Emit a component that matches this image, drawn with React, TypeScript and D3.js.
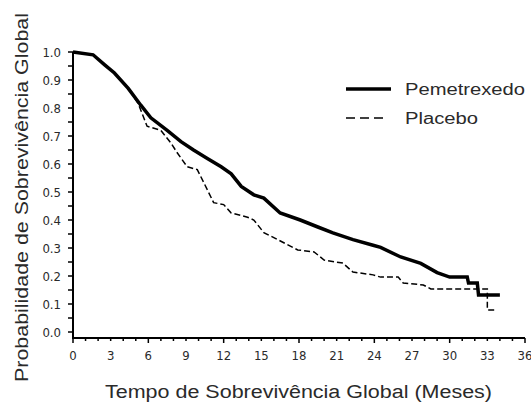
import React, { useEffect, useRef } from 'react';
import * as d3 from 'd3';

// Kaplan-Meier curves: [month, survival]
const pemetrexedo: [number, number][] = [
  [0, 1.0], [1.6, 0.99], [2.5, 0.955], [3.3, 0.925], [4.4, 0.87], [5.4, 0.81],
  [6.2, 0.765], [7.5, 0.72], [8.6, 0.68], [9.6, 0.65], [10.7, 0.62], [11.8, 0.59],
  [12.6, 0.565], [13.4, 0.52], [14.4, 0.49], [15.2, 0.478], [16.5, 0.425],
  [18.1, 0.4], [19.5, 0.375], [20.7, 0.354], [22.3, 0.33], [23.9, 0.31],
  [24.5, 0.302], [26.1, 0.268], [27.7, 0.245], [29.0, 0.212], [30.0, 0.196],
  [31.4, 0.196], [31.5, 0.175], [32.2, 0.175], [32.3, 0.132], [34.0, 0.132]
];

const placebo: [number, number][] = [
  [0, 1.0], [1.6, 0.99], [2.5, 0.955], [3.3, 0.925], [4.4, 0.87], [5.2, 0.815],
  [5.9, 0.735], [7.0, 0.72], [7.8, 0.675], [8.3, 0.64], [9.1, 0.59], [9.9, 0.58],
  [10.4, 0.535], [11.2, 0.462], [12.0, 0.455], [12.6, 0.425], [13.9, 0.41],
  [14.4, 0.4], [15.2, 0.355], [16.3, 0.33], [17.9, 0.293], [19.2, 0.286],
  [20.0, 0.257], [21.5, 0.246], [22.3, 0.214], [23.9, 0.204], [24.5, 0.196],
  [25.9, 0.196], [26.3, 0.175], [27.9, 0.168], [28.5, 0.154], [33.0, 0.154],
  [33.0, 0.079], [33.6, 0.079]
];

const xLabels = [0, 3, 6, 9, 12, 15, 18, 21, 24, 27, 30, 33, 36];
const yLabels = [0, 0.1, 0.2, 0.3, 0.4, 0.5, 0.6, 0.7, 0.8, 0.9, 1.0];

const seriesNames = ['Pemetrexedo', 'Placebo'];

const W = 531;
const H = 405;
const textColor = '#2a2a2a';
const tickFont = "'Liberation Sans Narrow', 'Arial Narrow', 'DejaVu Sans Condensed', sans-serif";
const titleFont = "'Liberation Sans', Arial, sans-serif";

const App = () => {
  const svgRef = useRef<SVGSVGElement>(null);

  useEffect(() => {
    document.body.style.margin = '0';
    if (!svgRef.current) return;
    const svg = d3.select(svgRef.current);
    svg.selectAll('*').remove();

    const x = d3.scaleLinear().domain([0, 36]).range([73, 525]);
    const y = d3.scaleLinear().domain([0, 1]).range([332, 52]);
    const axisY = 338;

    // y ticks every 0.05, labels every 0.1
    const yTicks = d3.range(0, 21).map(i => i * 0.05);
    svg.append('g')
      .selectAll('line')
      .data(yTicks)
      .join('line')
      .attr('x1', 68).attr('x2', 73)
      .attr('y1', d => y(d)).attr('y2', d => y(d))
      .attr('stroke', '#000').attr('stroke-width', 1.5);

    svg.append('g')
      .selectAll('text')
      .data(yLabels)
      .join('text')
      .attr('x', 61)
      .attr('y', d => y(d))
      .attr('dy', '0.36em')
      .attr('text-anchor', 'end')
      .attr('fill', textColor)
      .style('font-family', tickFont)
      .style('font-size', '13px')
      .text(d => d.toFixed(1));

    // x ticks every month, longer every 6
    const xTicks = d3.range(0, 37);
    svg.append('g')
      .selectAll('line')
      .data(xTicks)
      .join('line')
      .attr('x1', d => x(d)).attr('x2', d => x(d))
      .attr('y1', axisY).attr('y2', d => axisY + (d % 6 === 0 ? 5 : 3))
      .attr('stroke', '#000').attr('stroke-width', 1.5);

    svg.append('g')
      .selectAll('text')
      .data(xLabels)
      .join('text')
      .attr('x', d => x(d))
      .attr('y', 360)
      .attr('text-anchor', 'middle')
      .attr('fill', textColor)
      .style('font-family', tickFont)
      .style('font-size', '13px')
      .text(d => d);

    // axis lines
    svg.append('line')
      .attr('x1', 73).attr('x2', 73).attr('y1', 52).attr('y2', axisY + 1)
      .attr('stroke', '#000').attr('stroke-width', 2);
    svg.append('line')
      .attr('x1', 72).attr('x2', 525).attr('y1', axisY).attr('y2', axisY)
      .attr('stroke', '#000').attr('stroke-width', 2);

    const line = d3.line<[number, number]>()
      .x(d => x(d[0]))
      .y(d => y(d[1]));

    svg.append('path')
      .datum(placebo)
      .attr('fill', 'none')
      .attr('stroke', '#000')
      .attr('stroke-width', 1.5)
      .attr('stroke-dasharray', '6,3')
      .attr('d', line);

    svg.append('path')
      .datum(pemetrexedo)
      .attr('fill', 'none')
      .attr('stroke', '#000')
      .attr('stroke-width', 3.5)
      .attr('stroke-linejoin', 'miter')
      .attr('d', line);

    // legend
    const legend = svg.append('g');
    seriesNames.forEach((name, i) => {
      const ly = i === 0 ? 89 : 118;
      legend.append('line')
        .attr('x1', 346).attr('x2', i === 0 ? 391 : 384)
        .attr('y1', ly).attr('y2', ly)
        .attr('stroke', '#000')
        .attr('stroke-width', i === 0 ? 3.5 : 1.5)
        .attr('stroke-dasharray', i === 0 ? null : '9,5');
      legend.append('text')
        .attr('x', 405)
        .attr('y', ly + 6)
        .attr('fill', textColor)
        .attr('textLength', i === 0 ? 120 : 73)
        .attr('lengthAdjust', 'spacingAndGlyphs')
        .style('font-family', titleFont)
        .style('font-size', '16px')
        .text(name);
    });

    // axis titles
    svg.append('text')
      .attr('x', 105)
      .attr('y', 398)
      .attr('fill', textColor)
      .attr('textLength', 387)
      .attr('lengthAdjust', 'spacingAndGlyphs')
      .style('font-family', titleFont)
      .style('font-size', '18px')
      .text('Tempo de Sobrevivência Global (Meses)');

    svg.append('text')
      .attr('transform', 'translate(28,382) rotate(-90)')
      .attr('x', 0)
      .attr('y', 0)
      .attr('fill', textColor)
      .attr('textLength', 369)
      .attr('lengthAdjust', 'spacingAndGlyphs')
      .style('font-family', titleFont)
      .style('font-size', '18px')
      .text('Probabilidade de Sobrevivência Global');
  }, []);

  return (
    <svg
      ref={svgRef}
      width={W}
      height={H}
      style={{ display: 'block', background: '#fff' }}
    />
  );
};

export default App;
